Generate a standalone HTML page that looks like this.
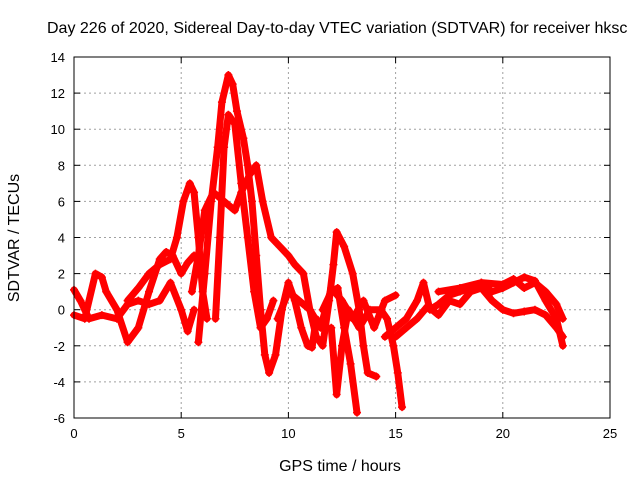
<!DOCTYPE html>
<html><head><meta charset="utf-8"><style>
body{margin:0;background:#fff}
svg{display:block;font-family:"Liberation Sans",sans-serif}
</style></head><body>
<svg id="chart" width="640" height="480">
<text x="47" y="33" font-size="16" text-anchor="start">Day 226 of 2020, Sidereal Day-to-day VTEC variation (SDTVAR) for receiver hksc</text>
<text x="340" y="471" font-size="16" text-anchor="middle">GPS time / hours</text>
<text transform="translate(19,238) rotate(-90)" font-size="16" text-anchor="middle">SDTVAR / TECUs</text>
<g id="grid"></g><g id="marks"></g><g id="axes"></g>
</svg>
<script>
const xTicks=[0,5,10,15,20,25];
const yTicks=[-6,-4,-2,0,2,4,6,8,10,12,14];
const s1=[[5.8,-1.8],[6.1,2],[6.4,6],[6.7,9],[6.9,11.5],[7.2,13],[7.4,12.5],[7.6,11],[7.9,9.5],[8.1,8],[8.3,6],[8.5,3],[8.7,0],[8.9,-2.5],[9.1,-3.5],[9.4,-2.5],[9.7,0],[10,1.5],[10.3,0.5],[10.6,-1],[10.9,-2],[11.1,-2.1],[11.3,-0.5]];
const s2=[[6.6,-0.5],[6.8,4],[7.0,9],[7.2,10.8],[7.5,10.3],[7.8,7],[8.1,4],[8.4,1],[8.7,-1],[9,-0.5],[9.3,0.5]];
const s3=[[2.5,0.5],[3,1.2],[3.5,2],[4,2.5],[4.5,2.8],[4.8,4],[5.1,6],[5.4,7],[5.6,6.5],[5.8,4],[6.0,1],[6.2,-0.5]];
const s4=[[5.5,1],[5.8,3],[6.1,5.5],[6.5,6.5],[7,6],[7.5,5.5],[7.8,6.5],[8.2,7.5],[8.5,8],[8.8,6],[9.2,4],[9.6,3.5],[10,3],[10.3,2.5],[10.7,2],[11,0],[11.3,-1.5],[11.6,-2],[11.9,0.5],[12.1,2.5],[12.25,4.3],[12.6,3.5],[13,2],[13.3,0],[13.5,-2],[13.7,-3.5],[14.1,-3.7]];
const s5=[[0,-0.3],[0.5,-0.5],[1,2],[1.3,1.8],[1.5,1],[2,0],[2.5,-1.8],[3,-1],[3.5,1],[4,2.8],[4.3,3.2],[4.6,3],[5,2],[5.3,2.6],[5.6,3]];
const s6=[[0,1.1],[0.3,0.5],[0.7,-0.5],[1.3,-0.3],[2,-0.5],[2.5,0.3],[3,0.5],[3.5,0.3],[4,0.5],[4.5,1.5],[5,0],[5.3,-1.2],[5.6,0]];
const s7=[[11.6,0],[12,1],[12.3,1.2],[12.6,-1],[12.9,-3],[13.2,-5.7]];
const s8=[[14.5,-1.5],[15,-1],[15.5,-0.5],[16,0.5],[16.3,1.5],[16.6,0],[17,0.3],[17.5,0.8],[18,1],[18.5,1.2],[19,1.5],[19.5,1],[20,1.2],[20.5,1.5],[21,1.8],[21.5,1.6],[22,0.5],[22.5,-0.5],[22.8,-2]];
const s9=[[15,-1.5],[15.5,-1],[16,-0.5],[16.5,0.2],[17,-0.3],[17.5,0.5],[18,0.3],[18.5,1],[19,1.2],[19.5,0.5],[20,0],[20.5,-0.2],[21,-0.1],[21.5,0],[22,-0.3],[22.5,-1],[22.8,-1.5]];
const s10=[[17,1],[18,1.2],[19,1.5],[20,1.4],[20.5,1.7],[21,1.2],[21.5,1.5],[22,1],[22.5,0.3],[22.8,-0.5]];
const s11=[[9.5,-0.5],[10,1],[10.5,0.5],[11,0],[11.5,-1],[12,1.2],[12.5,0.5],[13,-0.5],[13.5,0.5],[14,-1],[14.5,0.5],[15,0.8]];
const s12=[[12,-1],[12.25,-4.7],[12.5,-2],[12.8,0],[13.3,-1],[13.8,0],[14.3,0],[14.6,-0.5],[14.9,-2],[15.1,-3.5],[15.3,-5.4]];
const series=[s1,s2,s3,s4,s5,s6,s7,s8,s9,s10,s11,s12];
const L=74,R=610,T=57,B=418;
const X=v=>L+(v-0)/25*(R-L);
const Y=v=>B-(v+6)/20*(B-T);
const NS="http://www.w3.org/2000/svg";
function mk(t,a,p){const e=document.createElementNS(NS,t);for(const k in a)e.setAttribute(k,a[k]);p.appendChild(e);return e;}
const grid=document.getElementById('grid'),axes=document.getElementById('axes'),marks=document.getElementById('marks');
xTicks.forEach(v=>{
 if(v>0&&v<25){const g=mk('line',{x1:X(v),x2:X(v),y1:T,y2:B,stroke:'#a0a0a0','stroke-dasharray':'2,3'},grid);
 
 }
 const t=mk('text',{x:X(v),y:B+20,'font-size':13,'text-anchor':'middle'},axes);t.textContent=v;
 
 
 mk('line',{x1:X(v),x2:X(v),y1:B,y2:B-6,stroke:'#000'},axes);
 mk('line',{x1:X(v),x2:X(v),y1:T,y2:T+6,stroke:'#000'},axes);
});
yTicks.forEach(v=>{
 if(v>-6&&v<14){const g=mk('line',{x1:L,x2:R,y1:Y(v),y2:Y(v),stroke:'#a0a0a0','stroke-dasharray':'2,3'},grid);
 
 }
 const t=mk('text',{x:L-9,y:Y(v)+5,'font-size':13,'text-anchor':'end'},axes);t.textContent=v;
 
 
 mk('line',{x1:L,x2:L+6,y1:Y(v),y2:Y(v),stroke:'#000'},axes);
 mk('line',{x1:R,x2:R-6,y1:Y(v),y2:Y(v),stroke:'#000'},axes);
});
const box=mk('rect',{x:L,y:T,width:R-L,height:B-T,fill:'none',stroke:'#000'},axes);


series.forEach((s,i)=>{
 const pl=mk('polyline',{points:s.map(p=>X(p[0])+','+Y(p[1])).join(' '),fill:'none',stroke:'#f00','stroke-width':7,'stroke-linejoin':'round','stroke-linecap':'round'},marks);
 
 
 s.forEach(p=>{
  const x=X(p[0]),y=Y(p[1]);
  const m=mk('path',{d:`M${x-4},${y}H${x+4}M${x},${y-4}V${y+4}`,stroke:'#f00','stroke-width':1.5},marks);
  
  
 });
});
</script>
</body></html>
